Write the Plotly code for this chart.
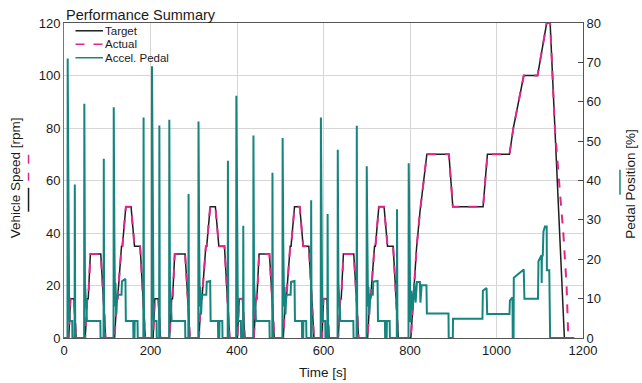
import plotly.graph_objects as go

# ---------------- data ----------------
# Target speed, one urban (ECE) cycle, times relative to cycle start
ece_t = [0, 11, 15, 23, 28, 49, 54, 56, 61, 85, 93, 96, 117, 122, 124, 133, 135, 143, 155, 163, 176, 188, 195]
ece_v = [0, 0, 15, 15, 0, 0, 15, 15, 32, 32, 10, 0, 0, 15, 15, 35, 35, 50, 50, 35, 35, 0, 0]
cycle_starts = [0, 195, 390, 585]

# Target speed, extra-urban part
eudc_t = [780, 802, 815, 823, 839, 890, 899, 969, 979, 1030, 1039, 1063, 1095, 1116, 1124, 1135, 1141.6, 1147, 1152, 1157, 1172]
eudc_v = [0, 0, 34, 48, 70, 70, 50, 50, 70, 70, 80, 100, 100, 120, 120, 80, 60, 40, 20, 0, 0]

# Actual speed differs from target only in the final deceleration
actual_tail_t = [1135, 1144.5, 1154.5, 1162, 1166, 1172]
actual_tail_v = [80, 60, 40, 20, 0, 0]

# Accelerator pedal [%]
ped1_t = [0, 8, 8.5, 10, 12, 13, 19, 19.5, 24.5, 25, 26, 46.5, 47, 48.5, 51, 53, 84, 84.5, 91.5, 92, 93,
          114.5, 115, 116.5, 118, 119, 121, 123, 133, 134, 142, 143, 160, 160.5, 163, 163.5, 170, 170.5, 183.5, 184, 185]
ped1_v = [0, 0, 71, 25, 6, 4.3, 4.3, 0, 0, 39, 0, 0, 59.5, 14, 7, 4.3, 4.3, 0, 0, 45.5, 0,
          0, 58.6, 26, 8, 14, 6, 11, 11, 14.4, 15, 4.3, 4.3, 0, 0, 4.3, 4.3, 0, 0, 56, 0]
ped2_t = [195, 203, 203.5, 205, 207, 208, 214, 214.5, 220, 220.5, 221.5, 243, 243.5, 245, 247, 249, 280, 280.5, 287.5, 288, 289,
          310.5, 311, 312.5, 314, 315, 317, 319, 329, 330, 338, 339, 356, 356.5, 359, 359.5, 366, 366.5, 378.5, 379, 380]
ped2_v = [0, 0, 69, 24, 6, 4.3, 4.3, 0, 0, 54, 0, 0, 55.4, 14, 7, 4.3, 4.3, 0, 0, 36.6, 0,
          0, 55, 25, 8, 13, 6, 11, 11, 14.3, 14.5, 4.3, 4.3, 0, 0, 4.3, 4.3, 0, 0, 45, 0]
ped3_t = [390, 398, 398.5, 400, 402, 403, 409, 409.5, 414, 414.5, 415.5, 437.5, 438, 439.5, 442, 444, 475, 475.5, 481.5, 482, 483,
          505, 505.5, 507, 509, 510, 512, 514, 524, 525, 533, 534, 550, 550.5, 553, 553.5, 560, 560.5, 571, 571.5, 572.5]
ped3_v = [0, 0, 61.5, 23, 6, 4.3, 4.3, 0, 0, 28.5, 0, 0, 51.4, 14, 7, 4.3, 4.3, 0, 0, 42, 0,
          0, 50.8, 24, 8, 13, 6, 11, 11, 14.3, 14.5, 4.3, 4.3, 0, 0, 4.3, 4.3, 0, 0, 35, 0]
ped4_t = [585, 593.5, 594, 595.5, 597, 598, 604, 604.5, 609, 609.5, 610.5, 632.5, 633, 634.5, 637, 639, 669, 669.5, 676.5, 677, 678,
          699.5, 700, 701.5, 703, 704, 706, 708, 714, 715, 725, 726, 742, 742.5, 746, 746.5, 753, 753.5, 769.5, 770, 771, 780]
ped4_v = [0, 0, 56, 22, 6, 4.3, 4.3, 0, 0, 31.5, 0, 0, 47.8, 14, 7, 4.3, 4.3, 0, 0, 53.9, 0,
          0, 43.6, 24, 8, 13, 6, 11, 11, 14.3, 14.5, 4.3, 4.3, 0, 0, 4.3, 4.3, 0, 0, 32.7, 0, 0]
ped5_t = [796.5, 797, 798, 799.5, 801, 803, 806, 810, 813, 816, 823, 824, 827, 838, 839, 889, 889.5, 899, 899.5,
          967.5, 968.5, 977, 978.5, 1030, 1031, 1037, 1037.5, 1039.5, 1040, 1063, 1064.5, 1096, 1097, 1104, 1104.5,
          1105, 1107, 1108.5, 1112, 1116, 1116.5, 1122, 1124, 1180]
ped5_v = [0, 44.4, 27, 24, 4, 12, 7, 14, 9, 14.2, 14.2, 9, 13.4, 13.4, 6.2, 6.2, 0, 0, 4.9,
          4.9, 12, 12.7, 6.1, 6.1, 9.5, 10.3, 0, 0, 15.3, 17.4, 10, 10, 19.5, 21, 14,
          20.5, 21, 27, 28.3, 28.3, 17.2, 17.2, 0, 0]

legend_names = ["Target", "Actual", "Accel. Pedal"]

# ---------------- assemble series ----------------
target_t, target_v = [], []
for s in cycle_starts:
    target_t += [s + t for t in ece_t]
    target_v += ece_v
target_t += eudc_t
target_v += eudc_v

cut = eudc_t.index(1135)
actual_t = target_t[:len(target_t) - len(eudc_t) + cut] + actual_tail_t
actual_v = target_v[:len(target_v) - len(eudc_v) + cut] + actual_tail_v

pedal_t = ped1_t + ped2_t + ped3_t + ped4_t + ped5_t
pedal_v = ped1_v + ped2_v + ped3_v + ped4_v + ped5_v

C_TARGET = "#1e1e1e"
C_ACTUAL = "#e0288a"
C_PEDAL = "#16857f"
FONT = "Liberation Sans, Arial, sans-serif"
TXT = "#1a1a1a"

fig = go.Figure()
fig.add_trace(go.Scatter(x=target_t, y=target_v, mode="lines", name=legend_names[0],
                         line=dict(color=C_TARGET, width=1.5), showlegend=False))
fig.add_trace(go.Scatter(x=actual_t, y=actual_v, mode="lines", name=legend_names[1],
                         line=dict(color=C_ACTUAL, width=2, dash="dash"), showlegend=False))
fig.add_trace(go.Scatter(x=pedal_t, y=pedal_v, mode="lines", name=legend_names[2], yaxis="y2",
                         line=dict(color=C_PEDAL, width=2), showlegend=False))

# ---------------- layout ----------------
PL, PR, PT, PB = 63.5, 583, 23, 338.5
W, H = 642, 383


def px(X):
    return (X - PL) / (PR - PL)


def py(Y):
    return (PB - Y) / (PB - PT)


shapes = []
annotations = []
# custom compact legend
leg_rows = [30.8, 44.3, 57.8]
leg_styles = [dict(color=C_TARGET, width=1.5), dict(color=C_ACTUAL, width=1.5, dash="dash"), dict(color=C_PEDAL, width=1.5)]
for name, yy, st in zip(legend_names, leg_rows, leg_styles):
    shapes.append(dict(type="line", xref="paper", yref="paper", x0=px(75), x1=px(102.5), y0=py(yy), y1=py(yy), line=st))
    annotations.append(dict(text=name, xref="paper", yref="paper", x=px(104), y=py(yy), xanchor="left", yanchor="middle",
                            showarrow=False, borderpad=0, font=dict(family=FONT, size=11.5, color=TXT)))

# title
annotations.append(dict(text="Performance Summary", xref="paper", yref="paper", x=px(64), y=py(15), xanchor="left",
                        yanchor="middle", showarrow=False, font=dict(family=FONT, size=14.5, color=TXT)))
# axis titles
annotations.append(dict(text="Time [s]", xref="paper", yref="paper", x=px(323), y=py(373), xanchor="center",
                        yanchor="middle", showarrow=False, font=dict(family=FONT, size=13.5, color=TXT)))
annotations.append(dict(text="Vehicle Speed [rpm]", xref="paper", yref="paper", x=px(15), y=py(178), xanchor="center",
                        yanchor="middle", textangle=-90, showarrow=False, font=dict(family=FONT, size=13.5, color=TXT)))
annotations.append(dict(text="Pedal Position [%]", xref="paper", yref="paper", x=px(631), y=py(184), xanchor="center",
                        yanchor="middle", textangle=-90, showarrow=False, font=dict(family=FONT, size=13.5, color=TXT)))
# axis-title line keys
shapes.append(dict(type="line", xref="paper", yref="paper", x0=px(28), x1=px(28), y0=py(155), y1=py(181),
                   line=dict(color=C_ACTUAL, width=1.5, dash="dash")))
shapes.append(dict(type="line", xref="paper", yref="paper", x0=px(28), x1=px(28), y0=py(188), y1=py(212),
                   line=dict(color=C_TARGET, width=1.5)))
shapes.append(dict(type="line", xref="paper", yref="paper", x0=px(620), x1=px(620), y0=py(170), y1=py(195),
                   line=dict(color=C_PEDAL, width=1.5)))

fig.update_layout(
    width=W, height=H,
    margin=dict(l=PL, r=W - PR, t=PT, b=H - PB, pad=0),
    paper_bgcolor="white", plot_bgcolor="white",
    font=dict(family=FONT, size=13, color=TXT),
    showlegend=False,
    shapes=shapes, annotations=annotations,
    xaxis=dict(range=[0, 1200], tickvals=[0, 200, 400, 600, 800, 1000, 1200], showgrid=True, gridcolor="#d6d6d6",
               gridwidth=1, zeroline=False, showline=True, linecolor="#555555", linewidth=1, mirror=True,
               ticks="", tickfont=dict(family=FONT, size=13, color=TXT)),
    yaxis=dict(range=[0, 120], tickvals=[0, 20, 40, 60, 80, 100, 120], showgrid=True, gridcolor="#d6d6d6",
               gridwidth=1, zeroline=False, showline=True, linecolor="#777777", linewidth=1, mirror=True,
               ticks="", tickfont=dict(family=FONT, size=13, color=TXT)),
    yaxis2=dict(range=[0, 80], tickvals=[0, 10, 20, 30, 40, 50, 60, 70, 80], overlaying="y", side="right",
                showgrid=False, zeroline=False, showline=True, linecolor="#555555", linewidth=1,
                ticks="inside", ticklen=5, tickcolor="#444444", tickfont=dict(family=FONT, size=13, color=TXT)),
)

fig.write_html("out.html")
